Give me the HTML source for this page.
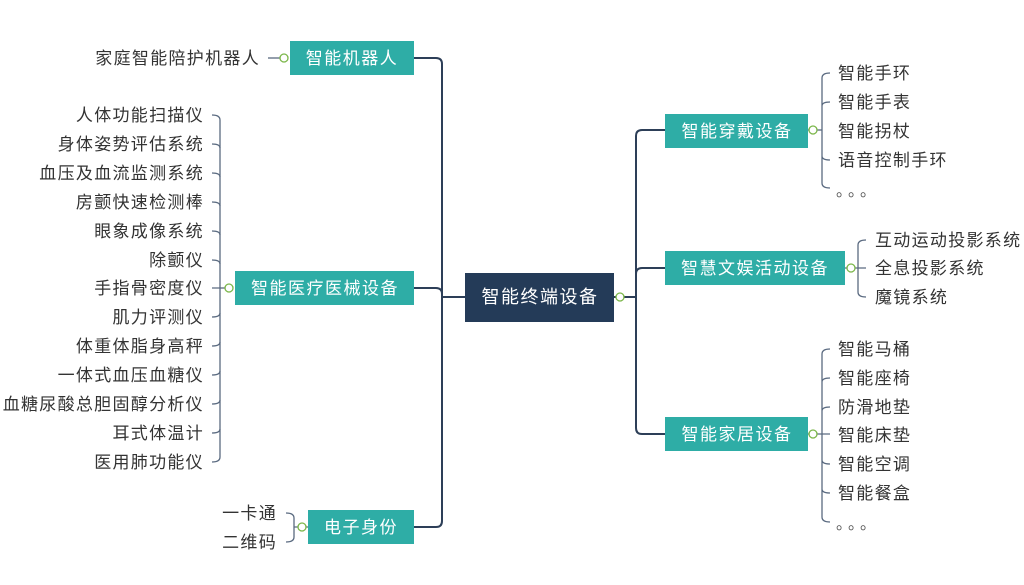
<!DOCTYPE html>
<html><head><meta charset="utf-8"><style>
html,body{margin:0;padding:0;background:#fff;}
svg{display:block;}
text{font-family:"Liberation Sans","Noto Sans CJK SC",sans-serif;}
.l{font-size:17px;fill:#333;letter-spacing:1.3px;}
.w{font-size:17px;fill:#fff;letter-spacing:1.5px;}
.d{font-size:16px;fill:#555;letter-spacing:4px;}
.c{stroke:#2d3f58;stroke-width:2;fill:none;}
.b{stroke:#5a6a80;stroke-width:1.3;fill:none;}
.o{fill:#fff;stroke:#7ab648;stroke-width:1.3;}
</style></head><body>
<svg width="1024" height="585" viewBox="0 0 1024 585" xmlns="http://www.w3.org/2000/svg">
<path class="c" d="M414,58 H436 q6,0 6,6 V521 q0,6 -6,6 H414"/>
<path class="c" d="M414,288 H436 q6,0 6,6"/>
<path class="c" d="M442,297 H465"/>
<path class="c" d="M614,297 H636"/>
<path class="c" d="M665,130 H642 q-6,0 -6,6 V428 q0,6 6,6 H665"/>
<path class="c" d="M636,274 q0,-6 6,-6 H665"/>

<rect x="465" y="273" width="149" height="49" fill="#243b58"/>
<text class="w" x="540" y="303" text-anchor="middle" style="font-size:18px">智能终端设备</text>
<circle class="o" cx="620" cy="297" r="4"/>

<rect x="290" y="41" width="124" height="34" fill="#2eada6"/>
<text class="w" x="352" y="64" text-anchor="middle">智能机器人</text>
<rect x="235" y="271" width="179" height="34" fill="#2eada6"/>
<text class="w" x="325" y="294" text-anchor="middle">智能医疗医械设备</text>
<rect x="308" y="510" width="106" height="34" fill="#2eada6"/>
<text class="w" x="361" y="533" text-anchor="middle">电子身份</text>

<rect x="665" y="114" width="143" height="34" fill="#2eada6"/>
<text class="w" x="737" y="137" text-anchor="middle">智能穿戴设备</text>
<rect x="665" y="251" width="180" height="34" fill="#2eada6"/>
<text class="w" x="755" y="274" text-anchor="middle">智慧文娱活动设备</text>
<rect x="665" y="417" width="143" height="34" fill="#2eada6"/>
<text class="w" x="737" y="440" text-anchor="middle">智能家居设备</text>

<path class="b" d="M268,58 H284"/>
<circle class="o" cx="284" cy="58" r="4"/>
<text class="l" x="260" y="64" text-anchor="end">家庭智能陪护机器人</text>

<path class="b" d="M229,288 H220"/>
<circle class="o" cx="229" cy="288" r="4"/>
<path class="b" d="M212,115 q8,0 8,5 V457 q0,5 -8,5"/>
<path class="b" d="M212,144 q8,0 8,4 M212,173 q8,0 8,4 M212,202 q8,0 8,4 M212,231 q8,0 8,4 M212,260 q8,0 8,4 M212,288 H220 M212,317 q8,0 8,-4 M212,346 q8,0 8,-4 M212,375 q8,0 8,-4 M212,404 q8,0 8,-4 M212,433 q8,0 8,-4"/>
<text class="l" x="204" y="121" text-anchor="end">人体功能扫描仪</text>
<text class="l" x="204" y="150" text-anchor="end">身体姿势评估系统</text>
<text class="l" x="204" y="179" text-anchor="end">血压及血流监测系统</text>
<text class="l" x="204" y="208" text-anchor="end">房颤快速检测棒</text>
<text class="l" x="204" y="237" text-anchor="end">眼象成像系统</text>
<text class="l" x="204" y="266" text-anchor="end">除颤仪</text>
<text class="l" x="204" y="294" text-anchor="end">手指骨密度仪</text>
<text class="l" x="204" y="323" text-anchor="end">肌力评测仪</text>
<text class="l" x="204" y="352" text-anchor="end">体重体脂身高秤</text>
<text class="l" x="204" y="381" text-anchor="end">一体式血压血糖仪</text>
<text class="l" x="204" y="410" text-anchor="end">血糖尿酸总胆固醇分析仪</text>
<text class="l" x="204" y="439" text-anchor="end">耳式体温计</text>
<text class="l" x="204" y="468" text-anchor="end">医用肺功能仪</text>

<path class="b" d="M286,513 q8,0 8,5 V537 q0,5 -8,5 M294,527 H308"/>
<circle class="o" cx="302" cy="527" r="4"/>
<text class="l" x="277" y="519" text-anchor="end">一卡通</text>
<text class="l" x="277" y="548" text-anchor="end">二维码</text>

<path class="b" d="M808,130 H822"/>
<circle class="o" cx="813" cy="130" r="4"/>
<path class="b" d="M830,73 q-8,0 -8,5 V183 q0,5 8,5 M830,102 q-8,0 -8,4 M830,160 q-8,0 -8,-4"/>
<text class="l" x="838" y="79">智能手环</text>
<text class="l" x="838" y="108">智能手表</text>
<text class="l" x="838" y="137">智能拐杖</text>
<text class="l" x="838" y="166">语音控制手环</text>
<text class="d" x="836" y="196">。。。</text>

<path class="b" d="M845,268 H866"/>
<circle class="o" cx="851" cy="268" r="4"/>
<path class="b" d="M866,240 q-8,0 -8,5 V292 q0,5 8,5"/>
<text class="l" x="875" y="246">互动运动投影系统</text>
<text class="l" x="875" y="274">全息投影系统</text>
<text class="l" x="875" y="303">魔镜系统</text>

<path class="b" d="M808,434 H830"/>
<circle class="o" cx="813" cy="434" r="4"/>
<path class="b" d="M830,349 q-8,0 -8,5 V517 q0,5 8,5 M830,378 q-8,0 -8,4 M830,407 q-8,0 -8,4 M830,464 q-8,0 -8,-4 M830,493 q-8,0 -8,-4"/>
<text class="l" x="838" y="355">智能马桶</text>
<text class="l" x="838" y="384">智能座椅</text>
<text class="l" x="838" y="413">防滑地垫</text>
<text class="l" x="838" y="441">智能床垫</text>
<text class="l" x="838" y="470">智能空调</text>
<text class="l" x="838" y="499">智能餐盒</text>
<text class="d" x="836" y="529">。。。</text>
</svg>
</body></html>
